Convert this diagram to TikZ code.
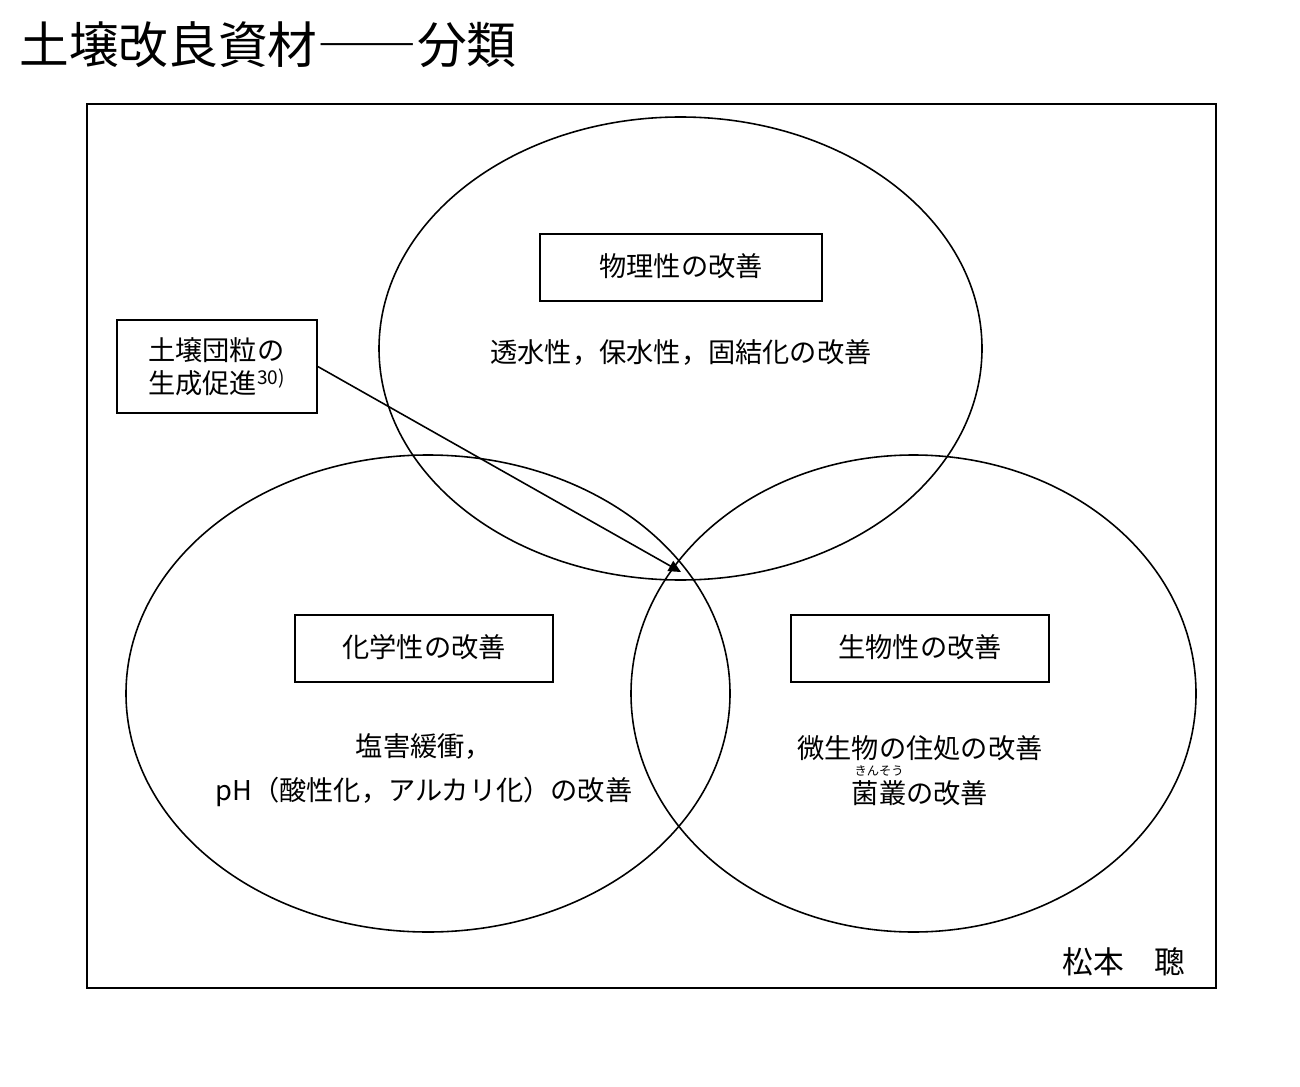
\documentclass[tikz,border=0pt]{standalone}
\usepackage{fontspec}
\setmainfont{Noto Sans CJK JP}
\usetikzlibrary{arrows.meta}
\usetikzlibrary{positioning}
\tikzstyle{topicbox}=[draw,line width=0.9pt,minimum height=1.34cm,inner sep=0pt,font=\fontsize{15.5pt}{18pt}\selectfont]
\tikzstyle{bodytext}=[align=center,inner sep=0pt,font=\fontsize{15.5pt}{25pt}\selectfont]
\tikzstyle{circ}=[line width=0.9pt]
\newsavebox{\rubybox}
\newcommand{\furigana}[2]{\leavevmode\sbox{\rubybox}{#1}\rlap{\raisebox{1em}{\makebox[\wd\rubybox]{\fontsize{7pt}{7pt}\selectfont #2}}}\usebox{\rubybox}}

\begin{document}
\begin{tikzpicture}[x=0.02cm,y=-0.02cm]

   \useasboundingbox[fill=white] (0,0) rectangle (1300,1087);

  \node[anchor=west, inner sep=0pt, font=\fontsize{28.3pt}{30pt}\selectfont] (title) at (19,45) {土壌改良資材――分類};

   \draw[line width=1.2pt] (87,104) rectangle (1216,988);

  % the three fields
    \foreach \pos/\rx/\ry in {{(680.5,348.5)/301.5/231.5}, {(428,693.5)/302/238.5}, {(913.5,693.5)/282.5/238.5}}
        \draw[circ] \pos ellipse [x radius=\rx, y radius=\ry];

    \foreach \pos/\name/\bw/\txt in {{(681,267.5)/phys/5.64cm/物理性の改善}, {(424,648.5)/chem/5.16cm/化学性の改善}, {(920,648.5)/bio/5.16cm/生物性の改善}}
        \node[topicbox, minimum width=\bw, text height=1.02em, text depth=0pt] (\name) at \pos {\txt};

\node[bodytext] (physnote) at (681,352) {透水性，保水性，固結化の改善};
\node[bodytext] (chemnote) at (424,770) {塩害緩衝，\\pH（酸性化，アルカリ化）の改善};
\node[bodytext] (bionote) at (920,748) {微生物の住処の改善};
\node[bodytext, anchor=base] (bionote2) at (920,803) {\furigana{菌叢}{きんそう}の改善};

  % aggregate box and pointer
\node[draw, line width=0.9pt, minimum width=4cm, minimum height=1.86cm, align=left, font=\fontsize{15.5pt}{19pt}\selectfont] (aggr) at (217,366.5) {土壌団粒の\\生成促進\textsuperscript{30)}};
\coordinate (junction) at (681,572);
\draw[line width=0.9pt, -{Triangle[length=7pt,width=6.5pt]}] (aggr.east) -- (junction);

  \node[font=\fontsize{17.5pt}{20pt}\selectfont] (author) at (1124,962) {松本　聰};

\end{tikzpicture}
\end{document}
